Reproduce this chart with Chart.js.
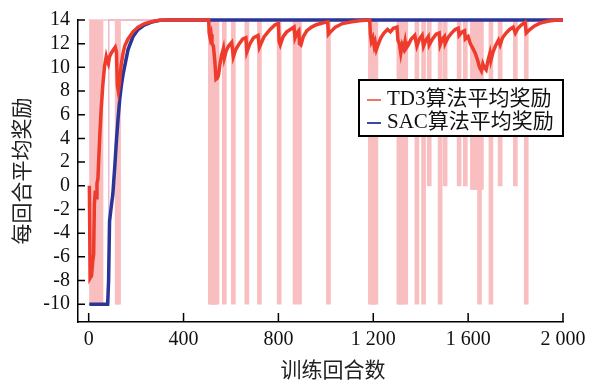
<!DOCTYPE html>
<html><head><meta charset="utf-8">
<script src="https://cdn.jsdelivr.net/npm/chart.js@4.4.1/dist/chart.umd.min.js"></script>
<style>html,body{margin:0;padding:0;background:#fff;}#wrap{position:relative;width:597px;height:386px;}</style>
</head><body><div id="wrap"><canvas id="c" width="597" height="386"></canvas></div>
<script>
// ---- tick labels ----
const xTickValues = [0, 400, 800, 1200, 1600, 2000];
const xTickLabels = ['0', '400', '800', '1 200', '1 600', '2 000'];
const yTickValues = [-10, -8, -6, -4, -2, 0, 2, 4, 6, 8, 10, 12, 14];
const xTitle = '训练回合数';
const yTitle = '每回合平均奖励';
const seriesNames = ['TD3算法平均奖励', 'SAC算法平均奖励'];

// ---- TD3 moving-average reward [episode, reward] ----
const td3Average = [
 [3,0],[6,-7.8],[12,-7.6],[17,-6.4],[21,-5.8],[24,-1.5],[28,-0.4],[31,-1.0],[35,0.2],[39,0.6],[43,2.5],[47,4.3],[53,6.6],[60,8.6],[67,10.1],[74,10.9],[79,10.5],[83,10.3],[88,10.9],[95,11.2],[105,11.5],[112,11.7],[117,11.3],[121,8.5],[125,8.0],[130,8.7],[137,10.2],[145,11.2],[152,11.8],[166,12.4],[187,13.0],[208,13.4],[236,13.7],[264,13.86],[299,13.97],[340,14],[506,14],
 [508,12.9],[512,12.5],[516,12.8],[520,12.0],[526,11.8],[532,10.5],[537,9.0],[543,9.1],[548,9.4],[553,10.2],[560,11.0],[568,11.6],[572,10.8],[580,11.4],[590,11.8],[603,12.1],[610,10.9],[620,11.5],[635,12.0],[650,12.4],[663,12.5],[667,11.3],[680,12.0],[695,12.5],[714,12.7],[720,11.7],[740,12.6],[765,13.2],[786,13.6],[800,13.7],[803,12.2],[808,11.9],[820,12.6],[835,13.0],[850,13.2],[866,13.4],[870,12.5],[878,12.9],[886,13.1],[889,12.0],[895,11.9],[905,12.6],[920,13.1],[940,13.4],[960,13.6],[985,13.75],[1008,13.85],[1011,12.8],[1020,13.0],[1040,13.4],[1070,13.7],[1110,13.85],[1150,13.95],[1185,14],
 [1188,12.8],[1192,12.2],[1198,12.5],[1204,11.8],[1208,12.1],[1213,11.5],[1220,11.9],[1232,12.5],[1245,12.9],[1260,13.2],[1272,13.0],[1285,13.3],[1300,13.4],[1304,12.3],[1310,12.0],[1316,11.2],[1322,11.9],[1328,11.6],[1334,12.2],[1338,11.6],[1348,11.9],[1360,12.4],[1375,12.7],[1384,11.8],[1395,12.4],[1406,12.7],[1412,11.8],[1422,12.3],[1432,12.6],[1436,11.9],[1450,12.4],[1465,12.8],[1478,12.9],[1482,11.9],[1492,12.4],[1500,12.6],[1503,12.0],[1515,12.5],[1530,12.9],[1545,13.2],[1558,13.3],[1562,12.7],[1575,13.0],[1585,13.1],[1588,12.4],[1600,12.6],[1609,12.0],[1620,11.6],[1630,11.2],[1640,10.6],[1648,10.0],[1656,9.7],[1662,10.3],[1668,10.0],[1676,9.8],[1684,10.6],[1692,11.2],[1696,10.6],[1705,11.3],[1715,11.8],[1728,12.3],[1735,11.9],[1745,12.5],[1760,12.9],[1775,13.2],[1790,13.4],[1799,12.9],[1810,13.3],[1825,13.6],[1840,13.8],[1845,12.9],[1860,13.2],[1880,13.5],[1905,13.75],[1935,13.9],[1965,13.97],[2000,14]
];

// ---- SAC moving-average reward [episode, reward] ----
const sacAverage = [
 [3,-10],[80,-10],[84,-8],[88,-3.0],[95,-1.8],[102,-0.7],[106,0.5],[110,1.6],[117,3.8],[124,5.7],[131,7.3],[138,8.5],[145,9.4],[152,10.1],[166,11.5],[187,12.6],[208,13.2],[236,13.6],[271,13.86],[300,13.97],[340,14],[2000,14]
];

// ---- TD3 raw episode rewards: normal reward and failed episodes ----
const td3RawNormal = [[0,14],[2000,14]];
const td3FailEpisodes = [12,20,28,36,44,52,120,126,513,520,527,534,541,572,610,667,720,803,870,889,1011,1188,1196,1204,1211,1308,1316,1326,1337,1384,1412,1436,1482,1503,1562,1588,1618,1626,1634,1642,1648,1656,1696,1735,1799,1845];
const td3FailRewards = [-10,-10,-10,-10,-10,-10,-10,-10,-10,-10,-10,-10,-10,-10,-10,-10,-10,-10,-10,-10,-10,-10,-10,-10,-10,-10,-10,-10,-10,-10,-10,0,-10,0,0,0,-0.3,-0.3,-0.3,-0.3,-10,-0.3,-10,0,0,-10];
// ---- SAC raw episode rewards ----
const sacRaw = [[0,-10],[84,-10],[85,14],[2000,14]];

const serif = '"Liberation Serif","Times New Roman","Noto Sans CJK SC",serif';
const cjk = '"Liberation Serif","Noto Sans CJK SC",serif';

const toXY = a => a.map(([x, y]) => ({x, y}));

const inwardTicks = {
  id: 'inwardTicks',
  afterDatasetsDraw(chart) {
    const {ctx, chartArea: a, scales: {x, y}} = chart;
    ctx.save();
    ctx.strokeStyle = '#000'; ctx.lineWidth = 1.5;
    ctx.beginPath();
    xTickValues.forEach(v => { const p = x.getPixelForValue(v); ctx.moveTo(p, a.bottom); ctx.lineTo(p, a.bottom - 9); });
    yTickValues.forEach(v => { const p = y.getPixelForValue(v); ctx.moveTo(a.left, p); ctx.lineTo(a.left + 7, p); });
    ctx.stroke();
    ctx.restore();
  }
};

const legendAndTitles = {
  id: 'legendAndTitles',
  afterDraw(chart) {
    const {ctx, chartArea: a} = chart;
    ctx.save();
    const bx = a.right - 204, by = a.top + 60, bw = 204, bh = 56;
    ctx.fillStyle = '#fff'; ctx.fillRect(bx, by, bw, bh);
    ctx.strokeStyle = '#000'; ctx.lineWidth = 2; ctx.strokeRect(bx, by, bw, bh);
    const cols = ['#F07468', '#3A47A6'];
    const rows = [by + 19, by + 42];
    ctx.font = '21px ' + cjk; ctx.textBaseline = 'middle'; ctx.textAlign = 'left';
    seriesNames.forEach((n, i) => {
      ctx.strokeStyle = cols[i]; ctx.lineWidth = 2;
      ctx.beginPath(); ctx.moveTo(bx + 8, rows[i] + 1); ctx.lineTo(bx + 22, rows[i] + 1); ctx.stroke();
      ctx.fillStyle = '#111'; ctx.fillText(n, bx + 28, rows[i]);
    });
    ctx.fillStyle = '#222'; ctx.font = '21px ' + cjk; ctx.textAlign = 'center'; ctx.textBaseline = 'middle';
    ctx.fillText(xTitle, 333, 371);
    ctx.translate(23, (a.top + a.bottom) / 2); ctx.rotate(-Math.PI / 2);
    ctx.fillText(yTitle, 0, 0);
    ctx.restore();
  }
};

new Chart(document.getElementById('c'), {
  type: 'line',
  data: {
    datasets: [
      {label: seriesNames[0], data: toXY(td3Average), borderColor: '#EE3B2B', borderWidth: 3.5, pointRadius: 0, tension: 0, order: 0, clip: false},
      {label: seriesNames[1], data: toXY(sacAverage), borderColor: '#2B3598', borderWidth: 3.5, pointRadius: 0, tension: 0, order: 1, clip: false},
      {type: 'bar', label: 'TD3 raw fails', data: td3FailEpisodes.map((e, i) => ({x: e, y: [td3FailRewards[i], 14]})), backgroundColor: '#F9BEC0', borderWidth: 0, barThickness: 4, grouped: false, order: 2},
      {label: 'TD3 raw', data: toXY(td3RawNormal), borderColor: '#F4A8B4', borderWidth: 1, pointRadius: 0, order: 3, clip: false},
      {label: 'SAC raw', data: toXY(sacRaw), borderColor: '#E09CC0', borderWidth: 1, pointRadius: 0, order: 4, clip: false}
    ]
  },
  options: {
    responsive: false, animation: false, devicePixelRatio: 1,
    layout: {padding: {left: 0, right: 34, top: 15, bottom: 0}},
    plugins: {legend: {display: false}, tooltip: {enabled: false}},
    scales: {
      x: {
        type: 'linear', min: -45, max: 2000, offset: false,
        grid: {display: false, drawTicks: false, offset: false},
        border: {display: true, color: '#000', width: 1.5},
        afterBuildTicks: s => { s.ticks = xTickValues.map(v => ({value: v})); },
        afterFit: s => { s.height = 64; },
        ticks: {font: {family: serif, size: 20}, color: '#111', padding: 6, maxRotation: 0, autoSkip: false,
          callback: v => xTickLabels[xTickValues.indexOf(v)]}
      },
      y: {
        type: 'linear', min: -11.5, max: 14,
        grid: {display: false, drawTicks: false},
        border: {display: true, color: '#000', width: 1.5},
        afterBuildTicks: s => { s.ticks = yTickValues.map(v => ({value: v})); },
        afterFit: s => { s.width = 78; },
        ticks: {font: {family: serif, size: 20}, color: '#111', padding: 8, autoSkip: false}
      }
    }
  },
  plugins: [inwardTicks, legendAndTitles]
});
</script></body></html>
